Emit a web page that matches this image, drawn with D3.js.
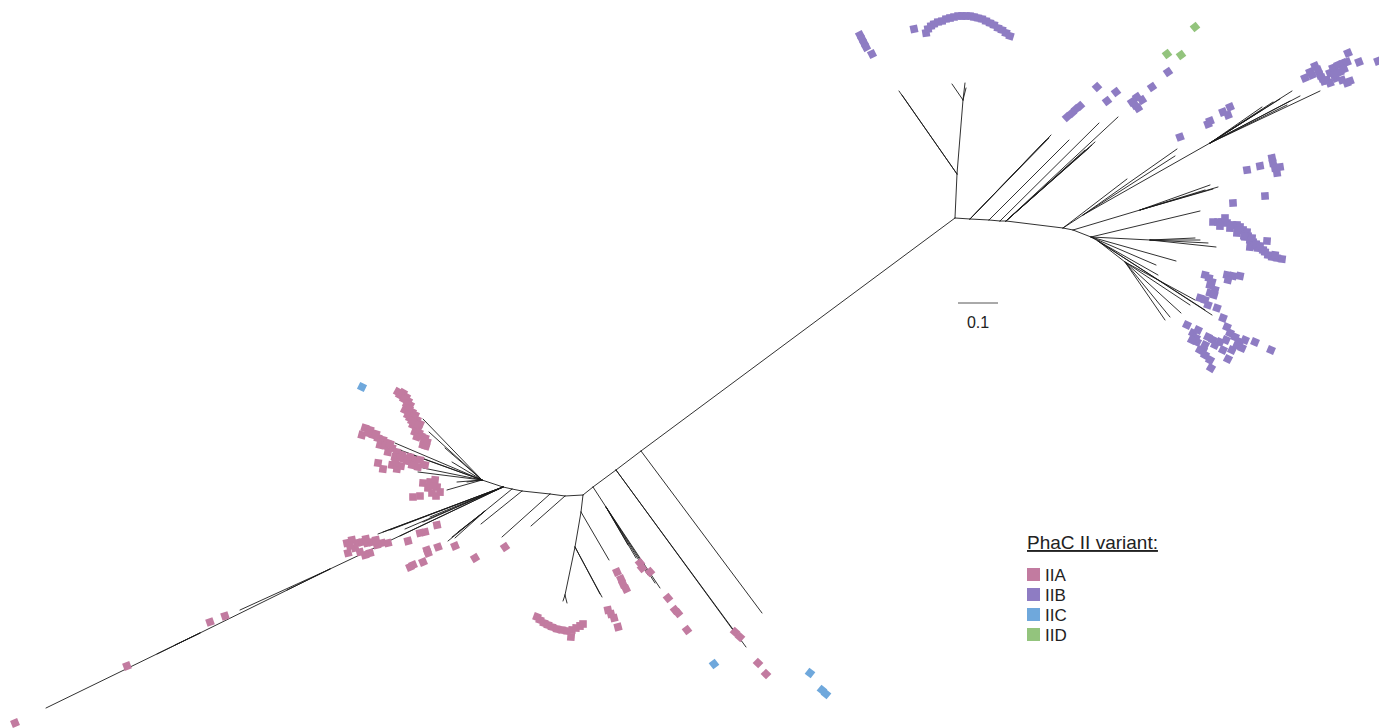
<!DOCTYPE html>
<html>
<head>
<meta charset="utf-8">
<script src="https://cdn.jsdelivr.net/npm/d3@7"></script>
<style>
  html, body { margin: 0; background: #fff; }
  svg { display: block; }
  text { font-family: "Liberation Sans", Arial, sans-serif; fill: #222; }
</style>
</head>
<body>
<svg id="chart" width="1379" height="728"></svg>
<script>
// Unrooted PhaC II tree. All positions are in substitutions per site,
// laid out around the IIB hub (0, 0); y grows upward.

// Internal nodes: [id, parent, x, y]
const internalNodes = [
  ["A",   null,  0,       0],
  ["c1",  "A",  -0.785,  -0.5825],
  ["c2",  "c1", -0.8475, -0.63],
  ["c3",  "c2", -0.905,  -0.6725],
  ["B",   "c3", -0.93,   -0.6925],
  ["c3a", "c3", -0.8725, -0.7225],
  ["b1",  "B",  -0.935,  -0.735],
  ["b2",  "b1", -0.95,   -0.8225],
  ["b3",  "b2", -0.975,  -0.9425],
  ["p1",  "B",  -0.975,  -0.695],
  ["p2",  "p1", -1.0125, -0.69],
  ["p3",  "p2", -1.0825, -0.6825],
  ["p4",  "p3", -1.1075, -0.6775],
  ["p4n", "p4", -1.175,  -0.7325],
  ["L0",  "p4", -1.13,   -0.6725],
  ["Cn",  "L0", -1.1825, -0.655],
  ["LA",  "L0", -1.5625, -0.8775],
  ["LB",  "LA", -1.8875, -1.0375],
  ["D",   "A",   0.005,   0.11],
  ["E",   "D",   0.02,    0.295],
  ["a1",  "A",   0.0375, -0.0025],
  ["a2",  "a1",  0.085,  -0.005],
  ["a3",  "a2",  0.1125, -0.0075],
  ["a4",  "a3",  0.1275, -0.0075],
  ["F",   "a4",  0.27,   -0.025],
  ["f1",  "F",   0.32,    0.0075],
  ["f2",  "f1",  0.6375,  0.1875],
  ["G0",  "F",   0.295,  -0.03],
  ["g0n", "G0",  0.4625,  0.02],
  ["G",   "G0",  0.34,   -0.0475],
  ["gn",  "G",   0.4875, -0.055],
  ["H",   "G",   0.3575, -0.0575],
  ["hn",  "H",   0.425,  -0.11]
];

// Leaves: [parent, x, y]
const leaves = [
  ["c1", -0.4825, -0.9875],
  ["c2", -0.5225, -1.0725], ["c2", -0.535, -1.0575],
  ["c3a", -0.7375, -0.925], ["c3a", -0.75, -0.9125], ["c3a", -0.7675, -0.8925],
  ["c3a", -0.7975, -0.85], ["c3a", -0.8175, -0.8175],
  ["b3", -0.98, -0.9575], ["b3", -0.97, -0.9625],
  ["b1", -0.865, -0.855],
  ["b2", -0.8825, -0.9475], ["b2", -0.8875, -0.94],
  ["p1", -1.06, -0.77],
  ["p2", -1.1325, -0.7975],
  ["p3", -1.185, -0.765],
  ["p4n", -1.2675, -0.8075], ["p4n", -1.2575, -0.7975], ["p4n", -1.2425, -0.785], ["p4n", -1.25, -0.8],
  ["L0", -1.4425, -0.79], ["L0", -1.43, -0.785], ["L0", -1.3875, -0.795], ["L0", -1.375, -0.7775],
  ["L0", -1.33, -0.76], ["L0", -1.3125, -0.7475], ["L0", -1.4125, -0.78],
  ["LA", -1.7875, -0.98], ["LA", -1.67, -0.93],
  ["LB", -2.2725, -1.225], ["LB", -1.995, -1.09], ["LB", -1.95, -1.0675],
  ["Cn", -1.33, -0.5025], ["Cn", -1.315, -0.535], ["Cn", -1.275, -0.575], ["Cn", -1.4, -0.5625],
  ["Cn", -1.3875, -0.58], ["Cn", -1.37, -0.5875], ["Cn", -1.2575, -0.61], ["Cn", -1.33, -0.625],
  ["Cn", -1.3425, -0.635], ["Cn", -1.245, -0.66], ["Cn", -1.27, -0.68], ["Cn", -1.22, -0.66],
  ["E", 0.025, 0.3375], ["E", -0.0075, 0.335], ["E", 0.0275, 0.325],
  ["D", -0.14, 0.3175], ["D", -0.1325, 0.3075],
  ["a1", 0.24, 0.2075], ["a1", 0.235, 0.2], ["a1", 0.2275, 0.195],
  ["a2", 0.285, 0.195],
  ["a3", 0.36, 0.2375],
  ["a4", 0.35, 0.19], ["a4", 0.3425, 0.1825], ["a4", 0.335, 0.175], ["a4", 0.325, 0.17], ["a4", 0.4075, 0.2525],
  ["F", 0.43, 0.0975],
  ["f1", 0.555, 0.1725], ["f1", 0.55, 0.155],
  ["f2", 0.8425, 0.3175], ["f2", 0.9125, 0.3175], ["f2", 0.8625, 0.305], ["f2", 0.7675, 0.2775],
  ["f2", 0.8375, 0.2925], ["f2", 0.83, 0.2825], ["f2", 0.795, 0.29], ["f2", 0.7675, 0.27], ["f2", 0.8125, 0.2975],
  ["g0n", 0.6575, 0.0775], ["g0n", 0.6375, 0.0825], ["g0n", 0.645, 0.0725], ["g0n", 0.625, 0.07],
  ["G", 0.6125, 0.0175], ["G", 0.5525, -0.1075], ["G", 0.5025, -0.1175],
  ["gn", 0.6125, -0.055], ["gn", 0.6525, -0.0725], ["gn", 0.6325, -0.0625], ["gn", 0.6, -0.05],
  ["H", 0.5075, -0.1425], ["H", 0.6425, -0.2425], ["H", 0.625, -0.23],
  ["hn", 0.5875, -0.2175], ["hn", 0.565, -0.2375], ["hn", 0.5375, -0.2475], ["hn", 0.525, -0.255], ["hn", 0.6, -0.205]
];

// Variant symbols placed beside the leaves: [x, y]
const markersIIA = [
  [-1.3925,-0.435],[-1.38,-0.4375],[-1.3725,-0.4475],[-1.3675,-0.4575],[-1.3625,-0.4675],[-1.375,-0.48],
  [-1.3575,-0.485],[-1.35,-0.4925],[-1.3625,-0.5],[-1.345,-0.505],[-1.355,-0.5175],[-1.3425,-0.525],
  [-1.35,-0.535],[-1.3375,-0.515],[-1.325,-0.55],[-1.33,-0.5675],[-1.32,-0.56],
  [-1.3875,-0.4425],[-1.3775,-0.4525],[-1.37,-0.465],[-1.365,-0.4775],[-1.3675,-0.4925],[-1.355,-0.4975],
  [-1.3475,-0.515],[-1.3575,-0.5075],[-1.34,-0.5375],[-1.335,-0.545],[-1.3275,-0.5575],[-1.3225,-0.57],
  [-1.345,-0.5475],
  [-1.475,-0.525],[-1.4625,-0.53],[-1.4825,-0.5425],[-1.455,-0.5425],[-1.4425,-0.55],[-1.43,-0.555],
  [-1.4375,-0.5675],[-1.42,-0.5625],[-1.4075,-0.575],[-1.395,-0.585],[-1.3825,-0.5925],[-1.375,-0.6],
  [-1.3625,-0.5975],[-1.35,-0.605],[-1.3575,-0.6175],[-1.3425,-0.6225],[-1.4425,-0.6125],[-1.43,-0.6275],
  [-1.4075,-0.6175],[-1.395,-0.6275],[-1.385,-0.62],[-1.4175,-0.585],[-1.4,-0.5975],
  [-1.4675,-0.5375],[-1.4475,-0.54],[-1.425,-0.57],[-1.4125,-0.565],[-1.3875,-0.6],[-1.37,-0.6075],
  [-1.3375,-0.605],[-1.325,-0.6175],[-1.4,-0.61],
  [-1.33,-0.6625],[-1.3125,-0.66],[-1.3,-0.655],[-1.295,-0.6725],[-1.3075,-0.6875],[-1.2875,-0.685],
  [-1.355,-0.6975],[-1.3375,-0.695],[-1.3175,-0.675],[-1.305,-0.67],[-1.2975,-0.695],
  [-1.52,-0.8125],[-1.5075,-0.805],[-1.495,-0.8125],[-1.4825,-0.81],[-1.47,-0.8125],[-1.4575,-0.81],
  [-1.5175,-0.8375],[-1.4875,-0.835],[-1.4625,-0.8375],[-1.445,-0.8175],[-1.4325,-0.8125],[-1.4175,-0.8125],
  [-1.5,-0.825],[-1.5125,-0.82],[-1.4725,-0.8025],[-1.4475,-0.805],[-1.475,-0.8425],
  [-1.3675,-0.8075],[-1.3375,-0.7875],[-1.325,-0.785],[-1.295,-0.7675],[-1.32,-0.83],
  [-1.3175,-0.8375],[-1.2925,-0.8225],[-1.25,-0.82],[-1.2,-0.85],[-1.125,-0.8225],
  [-1.3625,-0.8725],[-1.355,-0.8675],[-1.33,-0.86],
  [-1.8625,-1.01],[-1.825,-0.995],[-2.07,-1.12],[-2.35,-1.2625],
  [-1.045,-0.9975],[-1.0375,-1.005],[-1.0275,-1.0125],[-1.0175,-1.0175],[-1.0075,-1.0225],[-0.995,-1.0275],
  [-0.9825,-1.03],[-0.97,-1.0325],[-0.9575,-1.03],[-0.9475,-1.025],[-0.9375,-1.02],[-0.93,-1.015],[-0.96,-1.0475],
  [-0.845,-0.885],[-0.835,-0.9025],[-0.83,-0.915],[-0.8225,-0.9275],
  [-0.8675,-0.98],[-0.86,-0.99],[-0.8525,-1.0],[-0.8425,-1.0225],
  [-0.7875,-0.8625],[-0.7825,-0.875],[-0.7625,-0.885],
  [-0.7175,-0.95],[-0.7,-0.98],[-0.6925,-0.9875],[-0.67,-1.03],
  [-0.55,-1.035],[-0.5375,-1.0475],[-0.4925,-1.1125],[-0.4725,-1.14]
];

const markersIIB = [
  [-0.0725,0.4625],[-0.0675,0.4725],[-0.06,0.48],[-0.0525,0.485],[-0.0425,0.49],[-0.0325,0.4925],
  [-0.0225,0.4975],[-0.0125,0.5],[-0.0025,0.5025],[0.0075,0.505],[0.0175,0.505],[0.0275,0.505],
  [0.0375,0.505],[0.0475,0.5025],[0.0575,0.5],[0.0675,0.4975],[0.0775,0.4925],[0.0875,0.4875],
  [0.0975,0.4825],[0.1075,0.475],[0.1175,0.47],[0.1275,0.4625],[0.1375,0.455],
  [-0.1025,0.4725],[-0.2375,0.4575],[-0.2325,0.4475],[-0.2275,0.4375],[-0.2225,0.4275],[-0.2075,0.41],
  [0.28,0.2525],[0.2925,0.2625],[0.3025,0.2725],[0.3125,0.28],[0.355,0.3275],[0.4025,0.315],
  [0.38,0.2925],[0.4425,0.29],[0.455,0.3025],[0.4675,0.295],[0.4575,0.275],[0.45,0.2825],
  [0.4925,0.3275],[0.5325,0.365],[0.5625,0.2025],[0.6325,0.235],[0.6375,0.2425],[0.67,0.265],
  [0.6875,0.2775],[0.6825,0.2575],
  [0.875,0.35],[0.8875,0.365],[0.9,0.38],[0.9125,0.3575],[0.93,0.345],[0.9375,0.3625],[0.945,0.375],
  [0.9575,0.3825],[0.97,0.3875],[0.98,0.39],[0.9825,0.4125],[1.01,0.39],[0.9375,0.3375],[0.9675,0.345],
  [0.98,0.3375],[0.9875,0.3425],[1.0575,0.3925],[0.8925,0.3575],[0.9525,0.35],[0.9625,0.365],[0.9075,0.37],
  [0.9175,0.35],[0.9225,0.3425],[0.9725,0.3725],[0.9475,0.3575],
  [0.73,0.12],[0.7625,0.13],[0.795,0.1375],[0.8,0.125],[0.8125,0.1275],[0.805,0.1125],[0.7925,0.15],
  [0.775,0.055],[0.695,0.0375],
  [0.645,-0.01],[0.6575,-0.01],[0.6675,-0.01],[0.675,0],[0.68,-0.0125],[0.6925,-0.0175],[0.705,-0.0175],
  [0.7125,-0.0225],[0.72,-0.03],[0.73,-0.035],[0.705,-0.0375],[0.7325,-0.045],[0.725,-0.0475],
  [0.7375,-0.055],[0.745,-0.06],[0.75,-0.07],[0.7575,-0.075],[0.77,-0.08],[0.78,-0.0575],[0.7825,-0.0925],
  [0.7925,-0.0975],[0.805,-0.1],[0.8175,-0.1025],[0.7375,-0.0725],
  [0.6625,-0.02],[0.6875,-0.025],[0.7075,-0.03],[0.7225,-0.045],[0.7425,-0.05],[0.7525,-0.065],
  [0.7625,-0.07],[0.775,-0.085],[0.8,-0.0925],
  [0.625,-0.1425],[0.6425,-0.16],[0.65,-0.18],[0.6375,-0.1875],[0.68,-0.1425],[0.695,-0.145],[0.7125,-0.145],
  [0.635,-0.15],[0.6125,-0.2],[0.6325,-0.2175],[0.655,-0.225],[0.67,-0.25],[0.68,-0.2725],[0.58,-0.2675],
  [0.595,-0.2875],[0.605,-0.31],[0.62,-0.33],[0.6325,-0.2975],[0.645,-0.305],[0.6625,-0.31],[0.67,-0.33],
  [0.6875,-0.2875],[0.7,-0.2975],[0.7125,-0.31],[0.725,-0.305],[0.6925,-0.33],[0.6825,-0.3525],[0.64,-0.375],
  [0.75,-0.31],[0.79,-0.33],[0.6125,-0.33],[0.625,-0.3425],[0.6025,-0.3],
  [0.6375,-0.1675],[0.6475,-0.1925],[0.625,-0.205],[0.6075,-0.28],[0.625,-0.3175],[0.65,-0.3175],
  [0.6775,-0.305],[0.705,-0.3175],[0.7175,-0.325],[0.6375,-0.355],[0.5925,-0.305],[0.6825,-0.155]
];

const markersIIC = [
  [-1.4825,-0.4225],[-0.6025,-1.115],[-0.3625,-1.1375],[-0.3325,-1.18],[-0.3225,-1.19]
];

const markersIID = [
  [0.6,0.4775],[0.53,0.41],[0.565,0.4075]
];

const variantNames = ["IIA", "IIB", "IIC", "IID"];
const variantColors = ["#c27ba0", "#8e7cc3", "#6fa8dc", "#93c47d"];
const legendTitle = "PhaC II variant:";
const scaleBarLength = 0.1;
const scaleBarAt = [0.0075, -0.2125];

const svg = d3.select("#chart");
const W = 1379, H = 728;

// 400 px per substitution
const x = d3.scaleLinear().domain([-2.3875, 1.06]).range([0, W]);
const y = d3.scaleLinear().domain([0.545, -1.275]).range([0, H]);
const color = d3.scaleOrdinal().domain(variantNames).range(variantColors);

const byId = new Map(internalNodes.map(d => [d[0], d]));
const edges = [];
internalNodes.forEach(d => { if (d[1]) { const p = byId.get(d[1]); edges.push([p[2], p[3], d[2], d[3]]); } });
leaves.forEach(d => { const p = byId.get(d[0]); edges.push([p[2], p[3], d[1], d[2]]); });

svg.append("g")
  .selectAll("line").data(edges).join("line")
  .attr("x1", d => x(d[0])).attr("y1", d => y(d[1]))
  .attr("x2", d => x(d[2])).attr("y2", d => y(d[3]))
  .attr("stroke", "#1a1a1a").attr("stroke-width", 0.9).attr("stroke-linecap", "round");

// symbols are turned to face away from the hub of their clade
const hubA = byId.get("A"), hubB = byId.get("B");
const markerSets = [
  { v: "IIA", pts: markersIIA, hub: hubB },
  { v: "IIB", pts: markersIIB, hub: hubA },
  { v: "IIC", pts: markersIIC, hub: hubB },
  { v: "IID", pts: markersIID, hub: hubA }
];
const side = 7.6;
const mg = svg.append("g");
markerSets.forEach(set => {
  mg.append("g").selectAll("rect").data(set.pts).join("rect")
    .attr("x", -side / 2).attr("y", -side / 2).attr("width", side).attr("height", side)
    .attr("fill", color(set.v))
    .attr("transform", d => {
      const px = x(d[0]), py = y(d[1]);
      const a = Math.atan2(py - y(set.hub[3]), px - x(set.hub[2])) * 180 / Math.PI;
      return `translate(${px},${py}) rotate(${a})`;
    });
});

// scale bar
const sb = svg.append("g");
sb.append("line")
  .attr("x1", x(scaleBarAt[0])).attr("x2", x(scaleBarAt[0] + scaleBarLength))
  .attr("y1", y(scaleBarAt[1])).attr("y2", y(scaleBarAt[1]))
  .attr("stroke", "#555").attr("stroke-width", 1);
sb.append("text")
  .attr("x", x(scaleBarAt[0] + scaleBarLength / 2)).attr("y", y(scaleBarAt[1]) + 25)
  .attr("text-anchor", "middle").attr("font-size", 16).text(String(scaleBarLength));

// legend
const lg = svg.append("g").attr("transform", "translate(1027,549)");
lg.append("text").attr("x", 0).attr("y", 0).attr("font-size", 19)
  .attr("text-decoration", "underline").text(legendTitle);
const items = lg.selectAll("g.item").data(variantNames).join("g")
  .attr("class", "item")
  .attr("transform", (d, i) => `translate(0,${19 + i * 20})`);
items.append("rect").attr("x", 0).attr("y", 0).attr("width", 13).attr("height", 13)
  .attr("fill", d => color(d));
items.append("text").attr("x", 18).attr("y", 12.5).attr("font-size", 17).text(d => d);
</script>
</body>
</html>
